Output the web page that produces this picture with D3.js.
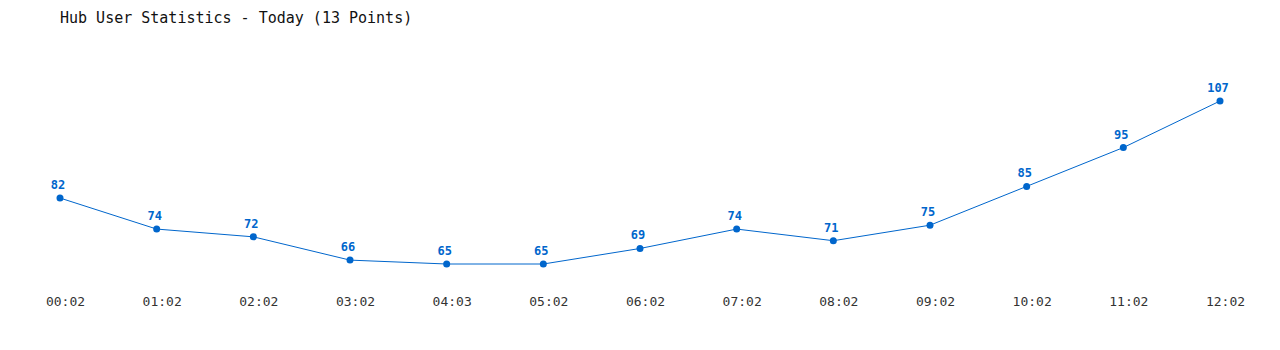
<!DOCTYPE html>
<html>
<head>
<meta charset="utf-8">
<script src="https://cdn.jsdelivr.net/npm/d3@7"></script>
<style>
  body { margin: 0; background: #fff; }
  svg text { font-family: "DejaVu Sans Mono", "Liberation Mono", monospace; }
</style>
</head>
<body>
<svg class="chart" width="1280" height="350"></svg>
<script>
const times = ["00:02", "01:02", "02:02", "03:02", "04:03", "05:02", "06:02",
  "07:02", "08:02", "09:02", "10:02", "11:02", "12:02"];
const users = [82, 74, 72, 66, 65, 65, 69, 74, 71, 75, 85, 95, 107];

const svg = d3.select("svg.chart");

const x = d3.scalePoint().domain(times).range([60, 1220]);
const y = d3
  .scaleLinear()
  .domain([d3.min(users), d3.max(users)])
  .range([264, 101]);

svg
  .append("text")
  .attr("x", 60)
  .attr("y", 23)
  .attr("font-size", 15)
  .attr("fill", "#111")
  .text("Hub User Statistics - Today (13 Points)");

const line = d3
  .line()
  .x((d, i) => x(times[i]))
  .y(d => y(d));

svg
  .append("path")
  .datum(users)
  .attr("d", line)
  .attr("fill", "none")
  .attr("stroke", "#0066cc")
  .attr("stroke-width", 1);

const pts = svg
  .selectAll("g.pt")
  .data(users)
  .enter()
  .append("g")
  .attr("class", "pt")
  .attr("transform", (d, i) => "translate(" + x(times[i]) + "," + y(d) + ")");

pts.append("circle").attr("r", 3.5).attr("fill", "#0066cc");

pts
  .append("text")
  .attr("x", -2)
  .attr("y", -9)
  .attr("text-anchor", "middle")
  .attr("font-size", 12)
  .attr("font-weight", "bold")
  .attr("fill", "#0066cc")
  .text(d => d);

// time labels under the points, shifted a little right like the original
const axis = d3.axisBottom(x).tickSize(0).tickPadding(0);
const ax = svg.append("g").attr("transform", "translate(5,297)").call(axis);
ax.select(".domain").remove();
ax.selectAll("text")
  .attr("font-size", 13)
  .attr("fill", "#333")
  .attr("dy", "0.71em")
  .style("font-family", "'DejaVu Sans Mono', monospace");
</script>
</body>
</html>
